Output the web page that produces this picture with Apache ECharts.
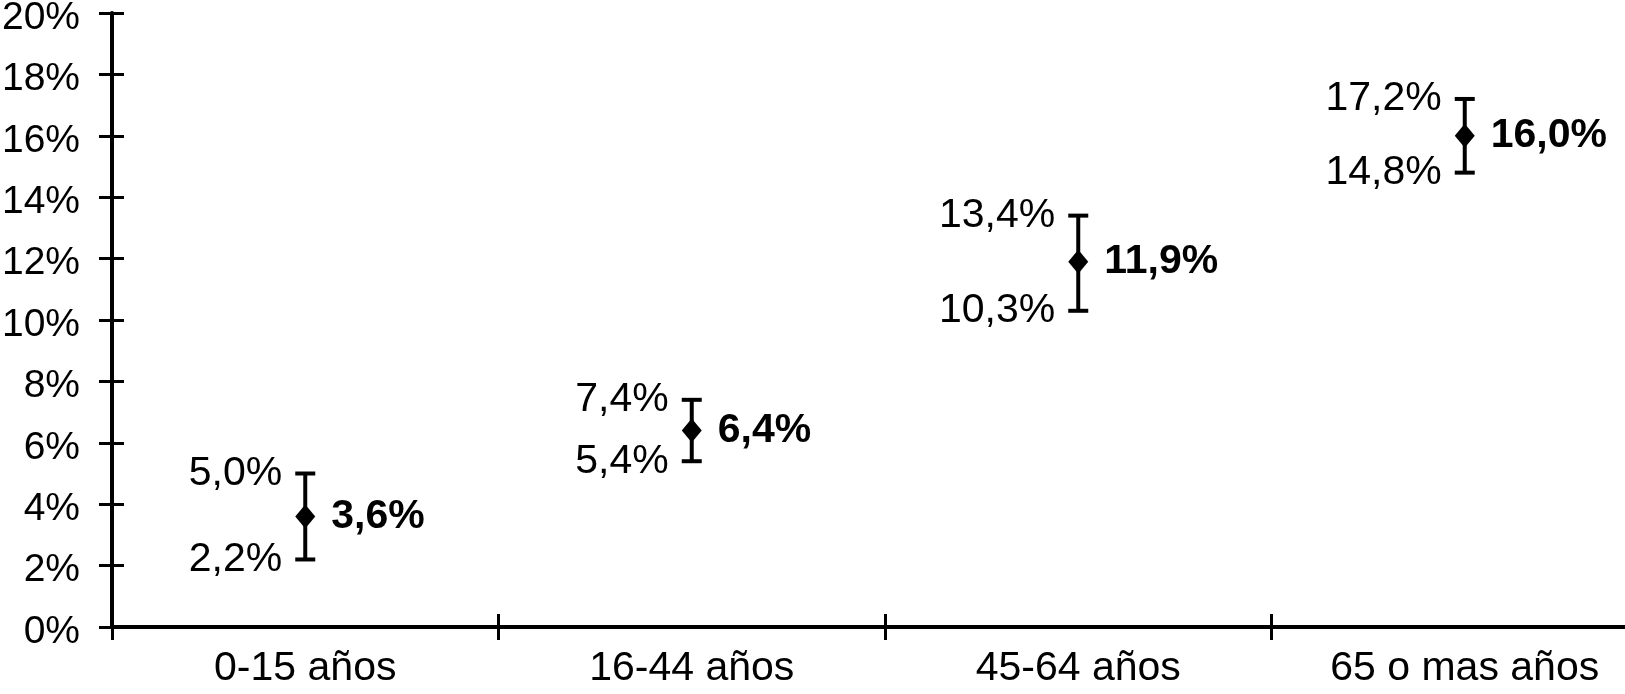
<!DOCTYPE html>
<html>
<head>
<meta charset="utf-8">
<script src="https://cdn.jsdelivr.net/npm/echarts@6/dist/echarts.min.js"></script>
<style>
html,body{margin:0;padding:0;background:#fff;}
#chart{width:1625px;height:694px;}
</style>
</head>
<body>
<div id="chart"></div>
<script>
const categories = ['0-15 años', '16-44 años', '45-64 años', '65 o mas años'];
const estimate = [3.6, 6.4, 11.9, 16.0];
const lower = [2.2, 5.4, 10.3, 14.8];
const upper = [5.0, 7.4, 13.4, 17.2];
const yTicks = { min: 0, max: 20, interval: 2 };

const FONT = '"Liberation Sans", Arial, Helvetica, sans-serif';
const fmt = v => v.toFixed(1).replace('.', ',') + '%';

const chart = echarts.init(document.getElementById('chart'), null, { renderer: 'canvas' });

const errData = categories.map((c, i) => [i, estimate[i], lower[i], upper[i]]);
const ptData = categories.map((c, i) => [i, estimate[i]]);

const axisLineStyle = { color: '#000', width: 4 };
const tickStyle = { color: '#000', width: 3 };

chart.setOption({
  animation: false,
  backgroundColor: '#fff',
  grid: { left: 112, top: 13, right: -33, bottom: 67, containLabel: false, outerBoundsMode: 'none' },
  xAxis: [
    {
      type: 'category', data: categories, position: 'bottom',
      boundaryGap: true,
      axisLine: { show: true, lineStyle: axisLineStyle },
      axisTick: { show: true, length: 13, lineStyle: tickStyle },
      axisLabel: { color: '#000', fontSize: 41, fontFamily: FONT, margin: 21 },
      splitLine: { show: false }
    },
    {
      type: 'category', data: categories, position: 'bottom',
      boundaryGap: true,
      axisLine: { show: false },
      axisTick: { show: true, inside: true, length: 13, lineStyle: tickStyle },
      axisLabel: { show: false },
      splitLine: { show: false }
    }
  ],
  yAxis: [
    {
      type: 'value', min: yTicks.min, max: yTicks.max, interval: yTicks.interval,
      axisLine: { show: true, lineStyle: axisLineStyle },
      axisTick: { show: true, length: 13, lineStyle: tickStyle },
      axisLabel: {
        color: '#000', fontSize: 39, fontFamily: FONT, margin: 32,
        formatter: v => '{v|' + v + '%}',
        rich: { v: { color: '#000', fontSize: 39, fontFamily: FONT, padding: [10, 0, 0, 0] } }
      },
      splitLine: { show: false }
    },
    {
      type: 'value', min: yTicks.min, max: yTicks.max, interval: yTicks.interval, position: 'left',
      axisLine: { show: false },
      axisTick: { show: true, inside: true, length: 12, lineStyle: tickStyle },
      axisLabel: { show: false },
      splitLine: { show: false }
    }
  ],
  series: [
    {
      type: 'custom',
      xAxisIndex: 0, yAxisIndex: 0,
      data: errData,
      renderItem: function (params, api) {
        const x = api.value(0);
        const lo = api.coord([x, api.value(2)]);
        const hi = api.coord([x, api.value(3)]);
        const cx = lo[0];
        const half = 10;
        const ls = { stroke: '#000', lineWidth: 4 };
        return {
          type: 'group',
          children: [
            { type: 'line', shape: { x1: cx, y1: lo[1], x2: cx, y2: hi[1] }, style: ls },
            { type: 'line', shape: { x1: cx - half, y1: lo[1], x2: cx + half, y2: lo[1] }, style: ls },
            { type: 'line', shape: { x1: cx - half, y1: hi[1], x2: cx + half, y2: hi[1] }, style: ls },
            { type: 'text', style: { text: fmt(api.value(3)), x: cx - 23, y: hi[1], align: 'right', verticalAlign: 'middle', fontSize: 41, fontFamily: FONT, fill: '#000' } },
            { type: 'text', style: { text: fmt(api.value(2)), x: cx - 23, y: lo[1], align: 'right', verticalAlign: 'middle', fontSize: 41, fontFamily: FONT, fill: '#000' } }
          ]
        };
      },
      z: 2
    },
    {
      type: 'scatter',
      xAxisIndex: 0, yAxisIndex: 0,
      data: ptData,
      symbol: 'diamond',
      symbolSize: [20, 24],
      itemStyle: { color: '#000', opacity: 1 },
      label: {
        show: true, position: 'right', distance: 16,
        formatter: p => fmt(p.value[1]),
        color: '#000', fontSize: 41, fontWeight: 'bold', fontFamily: FONT
      },
      z: 3
    }
  ]
});
</script>
</body>
</html>
